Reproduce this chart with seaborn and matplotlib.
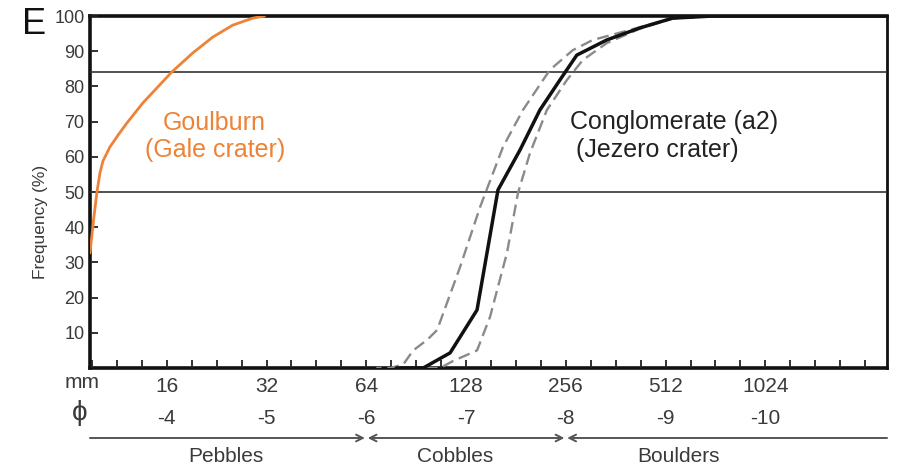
import numpy as np
import pandas as pd
import seaborn as sns
import matplotlib.pyplot as plt
from matplotlib.transforms import blended_transform_factory

# Cumulative grain-size distributions (phi scale, cumulative frequency %)
goulburn_phi = [-3.23, -3.27, -3.30, -3.33, -3.36, -3.43, -3.52, -3.60, -3.76, -4.05, -4.26, -4.46, -4.66, -4.86, -4.98]
goulburn_freq = [32.7, 43.0, 50.0, 55.4, 58.8, 62.8, 66.5, 69.6, 75.3, 84.1, 89.5, 94.0, 97.4, 99.4, 100.0]

jezero_phi = [-6.30, -6.57, -6.84, -7.11, -7.32, -7.54, -7.74, -7.94, -8.11, -8.41, -8.74, -9.07, -9.47, -11.2]
jezero_freq = [0.0, 0.0, 4.3, 16.5, 50.6, 61.9, 73.3, 81.8, 88.9, 93.2, 96.6, 99.4, 100.0, 100.0]

jezero_low_phi = [-6.10, -6.24, -6.37, -6.47, -6.61, -6.71, -6.94, -7.14, -7.37, -7.57, -7.84, -8.07, -8.27, -8.74, -9.07, -9.47]
jezero_low_freq = [0.0, 0.0, 1.0, 5.0, 8.0, 10.8, 28.7, 45.7, 62.8, 73.3, 84.7, 90.3, 93.2, 96.8, 99.4, 100.0]

jezero_high_phi = [-6.60, -6.74, -6.87, -7.11, -7.24, -7.41, -7.52, -7.64, -7.81, -8.01, -8.17, -8.41, -8.74, -9.07, -9.47]
jezero_high_freq = [0.0, 0.0, 2.0, 5.0, 14.5, 32.7, 49.7, 61.0, 73.3, 81.8, 87.5, 92.3, 96.4, 99.3, 100.0]

# Axis annotations
size_mm = [16, 32, 64, 128, 256, 512, 1024]
size_phi = [-4, -5, -6, -7, -8, -9, -10]
y_ticks = [10, 20, 30, 40, 50, 60, 70, 80, 90, 100]
reference_levels = [84, 50]
class_names = ["Pebbles", "Cobbles", "Boulders"]
class_bounds = [-3.23, -6, -8, -11.22]

sns.set_theme(style="white")
plt.rcParams["font.family"] = ["Liberation Sans", "DejaVu Sans"]

text_c = "#3a3a3a"
orange = "#EE8236"

fig = plt.figure(figsize=(8.97, 4.72), dpi=100)
ax = fig.add_axes([0.1003, 0.2203, 0.8886, 0.7457])

def frame(phi, freq, name):
    return pd.DataFrame({"phi": phi, "freq": freq, "series": name})

sns.lineplot(data=frame(goulburn_phi, goulburn_freq, "g"), x="phi", y="freq",
             color=orange, lw=2.0, estimator=None, ax=ax)
sns.lineplot(data=frame(jezero_low_phi, jezero_low_freq, "lo"), x="phi", y="freq",
             color="#8a8a8a", lw=1.7, estimator=None, ax=ax, linestyle=(0, (5, 2.5)))
sns.lineplot(data=frame(jezero_high_phi, jezero_high_freq, "hi"), x="phi", y="freq",
             color="#8a8a8a", lw=1.7, estimator=None, ax=ax, linestyle=(0, (5, 2.5)))
sns.lineplot(data=frame(jezero_phi, jezero_freq, "j"), x="phi", y="freq",
             color="#111111", lw=2.5, estimator=None, ax=ax)

for lvl in reference_levels:
    ax.axhline(lvl, color="#333333", lw=1.2, zorder=1)

ax.set_xlim(class_bounds[0], class_bounds[-1])
ax.set_ylim(0, 100)

for s in ax.spines.values():
    s.set_visible(True)
    s.set_color("#111111")
    s.set_linewidth(2.6)
    s.set_zorder(0.5)
ax.spines["right"].set_linewidth(2.0)

ax.set_yticks(y_ticks)
ax.set_yticklabels([str(v) for v in y_ticks], fontsize=13, color=text_c)
ax.set_xticks(np.arange(-3.25, -11.2, -0.25))
ax.set_xticklabels([])
ax.tick_params(axis="both", which="major", direction="in", length=6, width=1.3,
               color="#222222", bottom=True, left=True, top=False, right=False)
ax.tick_params(axis="y", pad=4)
ax.set_xlabel("")
ax.set_ylabel("Frequency (%)", fontsize=12.5, color=text_c)
ax.yaxis.set_label_coords(-0.053, 0.415)

trans = blended_transform_factory(ax.transData, fig.transFigure)
for mm, ph in zip(size_mm, size_phi):
    ax.text(ph, 1 - 387 / 472, str(mm), transform=trans, ha="center", va="center",
            fontsize=15, color=text_c)
    ax.text(ph, 1 - 418 / 472, str(ph), transform=trans, ha="center", va="center",
            fontsize=15, color=text_c)
fig.text(82 / 897, 1 - 382 / 472, "mm", ha="center", va="center", fontsize=15, color=text_c)
fig.text(80 / 897, 1 - 413 / 472, "ϕ", ha="center", va="center", fontsize=20, color=text_c)

# Size-class arrows and names
arrow_y = 1 - 438 / 472
name_x = [-4.59, -6.89, -9.13]
arrow_styles = ["->", "<->", "<-"]
for i, name in enumerate(class_names):
    a, b = class_bounds[i], class_bounds[i + 1]
    ax.annotate("", xy=(b, arrow_y), xytext=(a, arrow_y), xycoords=trans, textcoords=trans,
                arrowprops=dict(arrowstyle=arrow_styles[i] + ",head_length=0.4,head_width=0.2",
                                color="#555555", lw=1.4,
                                shrinkA=0 if i == 0 else 1, shrinkB=0 if i == 2 else 1))
    ax.text(name_x[i], 1 - 457 / 472, name, transform=trans, ha="center", va="center",
            fontsize=15, color=text_c)

ax.text(-4.48, 69.6, "Goulburn", ha="center", va="center", fontsize=18, color=orange)
ax.text(-4.48, 61.9, "(Gale crater)", ha="center", va="center", fontsize=18, color=orange)
ax.text(-9.09, 69.8, "Conglomerate (a2)", ha="center", va="center", fontsize=18, color="#222222")
ax.text(-8.92, 61.9, "(Jezero crater)", ha="center", va="center", fontsize=18, color="#222222")

fig.text(34 / 897, 1 - 24 / 472, "E", ha="center", va="center", fontsize=26, color="#111111")

fig.savefig("out.png", dpi=100, facecolor="white")
